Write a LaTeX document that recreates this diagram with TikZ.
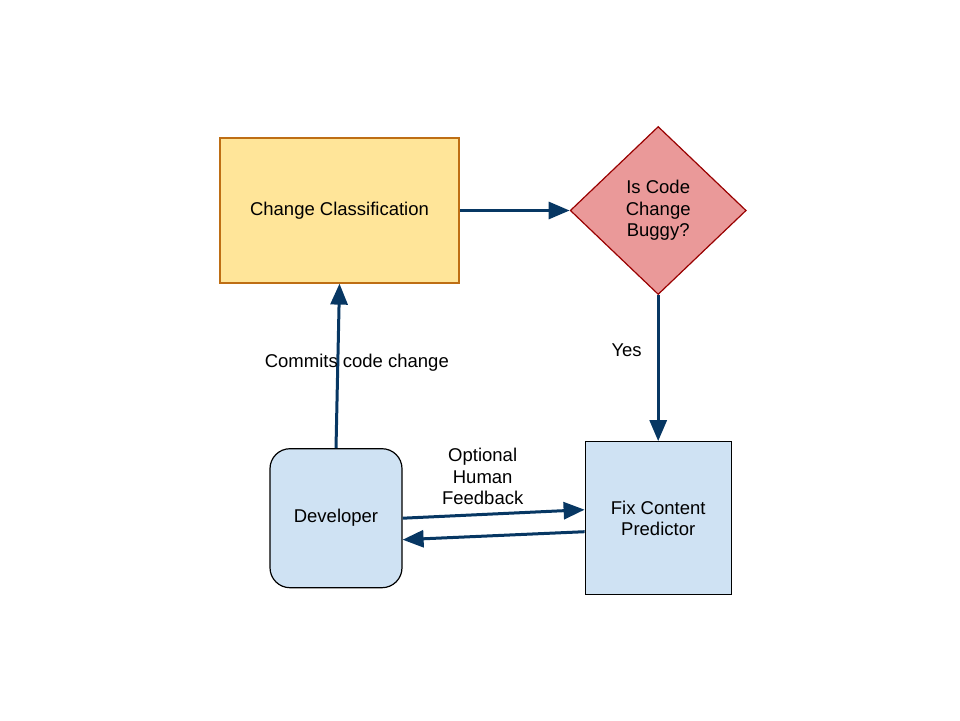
\documentclass[tikz,border=0pt]{standalone}
\usepackage{fontspec}
\setmainfont{Liberation Sans}
\usetikzlibrary{shapes.geometric, arrows.meta, positioning, shapes}
\definecolor{classfill}{RGB}{255,229,153}
\definecolor{classdraw}{RGB}{190,110,20}
\definecolor{buggyfill}{RGB}{234,153,153}
\definecolor{buggydraw}{RGB}{153,0,0}
\definecolor{devfill}{RGB}{207,226,243}
\definecolor{arrowblue}{RGB}{7,55,99}

\begin{document}
\begin{tikzpicture}[x=1pt, y=1pt, font=\fontsize{18.5}{21.5}\selectfont]
\tikzstyle{block} = [rectangle, draw, line width=1.2pt, text = black,
    align=center, inner sep=0pt]
\tikzstyle{decision} = [diamond, draw=buggydraw, fill=buggyfill, line width=1.2pt,
    minimum width=176pt, minimum height=168pt, inner sep=0pt, align=center]
\tikzstyle{line} = [draw=arrowblue, line width=3pt,
    -{Triangle[length=21pt, width=17pt]}]
\tikzstyle{note} = [text=black, align=center, inner sep=1pt]
    \useasboundingbox (0,0) rectangle (960,-720);
    % Place nodes
    \node [block, draw=classdraw, fill=classfill, minimum width=239pt,
        minimum height=145pt] (classify) at (339.5,-210.5) {Change Classification};
    \node [decision, right=110pt of classify] (buggy) {Is Code\\Change\\Buggy?};
    \node [block, fill=devfill, minimum width=146pt, minimum height=153pt,
        below=146pt of buggy] (predictor) {Fix Content\\Predictor};
    \node [block, fill=devfill, rounded corners=20pt, minimum width=132pt,
        minimum height=139pt, left=182pt of predictor] (developer) {Developer};

%paths
    \path [line] (classify) -- (buggy);
    \path [line] (buggy) -- node[note, left=14pt, pos=0.38] (yes) {Yes} (predictor);
    \path [line] (developer.north) -- node[note, pos=0.52, xshift=19pt] (commits) {Commits code change} (classify.south);
    \path [line] (developer.east) -- node[note, above=7pt, pos=0.44] (feedback) {Optional\\Human\\Feedback} ([yshift=8.5pt]predictor.west);
    \path [line] ([yshift=-13.5pt]predictor.west) -- ([yshift=-21.5pt]developer.east);

\end{tikzpicture}
\end{document}
